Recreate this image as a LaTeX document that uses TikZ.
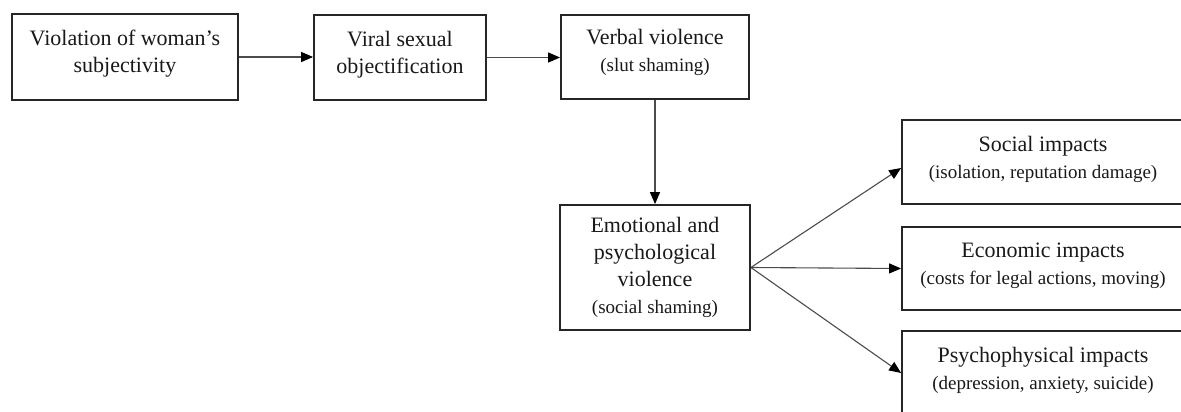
\documentclass[tikz,border=0pt]{standalone}
\usepackage{fontspec}
\setmainfont{Liberation Serif}
\usetikzlibrary{arrows.meta,calc}
\newcommand{\subt}[1]{{\fontsize{19}{26}\selectfont #1}}
\newcommand{\lift}[1]{\rule[-#1pt]{0pt}{1pt}}
\begin{document}
\begin{tikzpicture}[x=1pt,y=1pt,
  box/.style={draw=black!85,line width=1.8pt,rectangle,align=center,inner sep=0pt,
    font=\fontsize{22}{27}\selectfont,text=black!90},
  conn/.style={draw=black!70,line width=1.1pt,-{Triangle[length=12pt,width=10pt,color=black]}}]
\useasboundingbox (0,0) rectangle (1181,-412);
\fill[white] (0,0) rectangle (1181,-412);
\begin{scope}
\clip (0,0) rectangle (1181,-412);
\node[box,minimum width=226,minimum height=86] (b1) at (125,-57) {Violation of woman’s\\subjectivity\lift{12}};
\node[box,minimum width=172,minimum height=85] (b2) at (400,-57.5) {Viral sexual\\objectification\lift{10}};
\node[box,minimum width=188,minimum height=84] (b3) at (655,-57) {Verbal violence\\\subt{(slut shaming)}\lift{14}};
\node[box,minimum width=190,minimum height=125] (b4) at (655,-267.5) {Emotional and\\psychological\\violence\\\subt{(social shaming)}};
\node[box,minimum width=282,minimum height=84] (s) at (1043,-162) {Social impacts\\\subt{(isolation, reputation damage)}\lift{9}};
\node[box,minimum width=282,minimum height=83] (e) at (1043,-268.5) {Economic impacts\\\subt{(costs for legal actions, moving)}\lift{9}};
\node[box,minimum width=282,minimum height=84] (p) at (1043,-373) {Psychophysical impacts\\\subt{(depression, anxiety, suicide)}\lift{9}};
\coordinate (sin) at ($(s.west)+(0,-6)$);
\draw[conn] (b1.east) -- (b1.east -| b2.west);
\draw[conn] (b2.east) -- (b2.east -| b3.west);
\draw[conn] (b3.south) -- (b4.north);
\draw[conn] (b4.east) -- (sin);
\draw[conn] (b4.east) -- (e.west);
\draw[conn] (b4.east) -- (p.west);
\end{scope}
\end{tikzpicture}
\end{document}
